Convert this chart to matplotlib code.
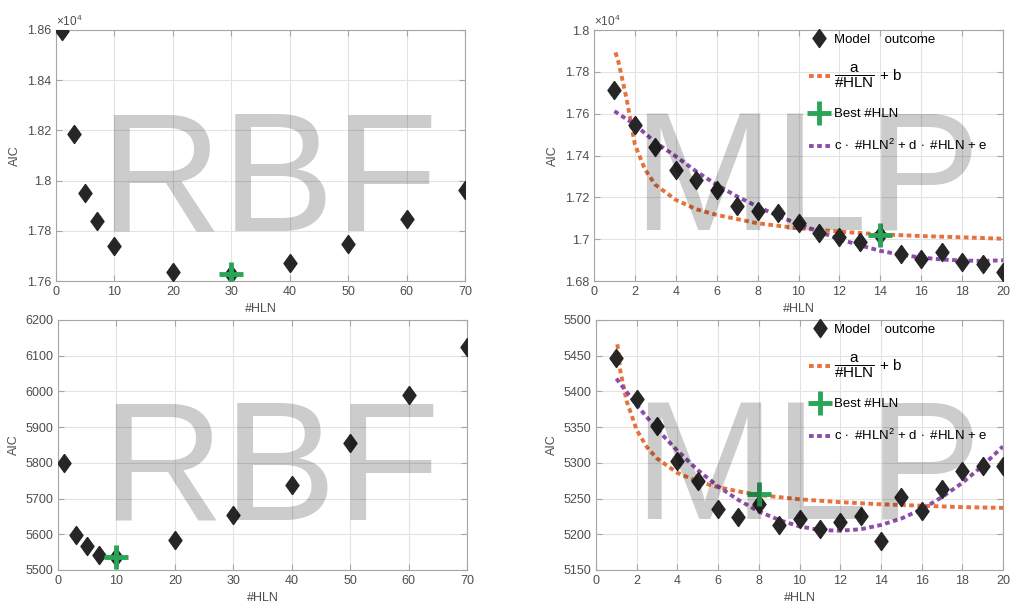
import matplotlib
matplotlib.use("Agg")
import matplotlib.pyplot as plt
from matplotlib.ticker import FuncFormatter

plt.rcParams['font.family'] = ['Liberation Sans', 'DejaVu Sans']
plt.rcParams['mathtext.fontset'] = 'custom'
plt.rcParams['mathtext.rm'] = 'Liberation Sans'
plt.rcParams['mathtext.it'] = 'Liberation Sans'
plt.rcParams['mathtext.bf'] = 'Liberation Sans:bold'

# ---- data ----
rbf_hln = [1, 3, 5, 7, 10, 20, 30, 40, 50, 60, 70]
rbf_aic_top = [18597, 18186, 17952, 17838, 17738, 17636, 17629, 17672, 17749, 17846, 17961]
rbf_best_top = (30, 17629)
rbf_aic_bot = [5801, 5599, 5568, 5542, 5536, 5583, 5654, 5737, 5855, 5989, 6124]
rbf_best_bot = (10, 5536)

mlp_hln = list(range(1, 21))
mlp_aic_top = [17712, 17547, 17442, 17332, 17284, 17233, 17159, 17135, 17124, 17079,
               17031, 17008, 16986, 17020, 16931, 16904, 16939, 16891, 16883, 16843]
mlp_best_top = (14, 17020)
mlp_aic_bot = [5447, 5390, 5352, 5303, 5274, 5236, 5224, 5243, 5213, 5222,
               5208, 5217, 5226, 5191, 5252, 5233, 5264, 5288, 5295, 5295]
mlp_best_bot = (8, 5257)

# fitted curves
fit1_x_top = [1.05, 1.2, 1.4, 1.6, 1.8, 2, 2.5, 3, 4, 5, 6, 8, 10, 12, 14, 16, 18, 20]
fit1_y_top = [17893, 17845, 17757, 17668, 17560, 17452, 17332, 17260, 17188, 17143,
              17116, 17076, 17052, 17036, 17023, 17015, 17009, 17002]
fit2_y_top = [17612, 17548, 17463, 17396, 17324, 17260, 17204, 17156, 17111, 17072,
              17036, 17000, 16971, 16944, 16926, 16912, 16903, 16898, 16896, 16899]

fit1_x_bot = [1.05, 1.2, 1.5, 2, 2.5, 3, 4, 5, 6, 7, 8, 10, 12, 14, 16, 18, 20]
fit1_y_bot = [5466, 5428, 5387, 5346, 5322, 5306, 5286, 5274, 5266, 5260, 5255,
              5249, 5245, 5242, 5240, 5238, 5237]
fit2_y_bot = [5418, 5381, 5347, 5317, 5290, 5267, 5248, 5232, 5220, 5211,
              5206, 5205, 5207, 5213, 5222, 5235, 5252, 5272, 5296, 5323]

GRAY = '#a6a6a6'
TXT = '#4d4d4d'
DARK = '#262626'
GREEN = '#2aa457'
ORANGE = '#e8703a'
PURPLE = '#8e4caa'
DIAMOND = [(0, 1), (0.72, 0), (0, -1), (-0.72, 0), (0, 1)]

fig = plt.figure(figsize=(10.11, 6.06), dpi=100)
W, H = 1011, 606


def make_ax(l, t, r, b):
    return fig.add_axes([l / W, 1 - b / H, (r - l) / W, (b - t) / H])


def style(ax, xlim, ylim, yticks, xticks, sci=False):
    ax.set_xlim(*xlim)
    ax.set_ylim(*ylim)
    ax.set_xticks(xticks)
    ax.set_yticks(yticks)
    if sci:
        ax.yaxis.set_major_formatter(FuncFormatter(lambda v, p: f'{v / 1e4:g}'))
        ax.text(0.0, 1.005, r'$\times10^4$', transform=ax.transAxes, fontsize=8.5,
                color=TXT, ha='left', va='bottom')
    ax.grid(True, color='#e3e3e3', lw=0.8)
    ax.set_axisbelow(True)
    for s in ax.spines.values():
        s.set_color(GRAY)
        s.set_linewidth(0.8)
    ax.tick_params(direction='in', top=True, right=True, length=4, color=GRAY,
                   labelcolor=TXT, labelsize=9, width=0.8)
    ax.set_xlabel('#HLN', fontsize=9, color=TXT, labelpad=4)
    ax.set_ylabel('AIC', fontsize=9, color=TXT, labelpad=4)


def watermark(ax, s):
    ax.text(0.52, 0.375, s, transform=ax.transAxes, fontsize=122, color='black',
            alpha=0.2, ha='center', va='center', zorder=4)


def dotted(ax, x, y, color, label=None):
    ln, = ax.plot(x, y, color=color, lw=2.8, label=label, zorder=2,
                  solid_capstyle='butt', dash_capstyle='butt')
    ln.set_dashes((1.2, 0.9))
    return ln


# RBF top
ax1 = make_ax(56, 30, 465, 281)
ax1.plot(rbf_hln, rbf_aic_top, ls='none', marker=DIAMOND, color=DARK, ms=13, zorder=3)
ax1.plot(*rbf_best_top, '+', color=GREEN, ms=17, mew=3.5, zorder=3)
style(ax1, (0, 70), (17600, 18600), range(17600, 18601, 200), range(0, 71, 10), sci=True)
watermark(ax1, 'RBF')

# RBF bottom
ax3 = make_ax(58, 320, 467, 570)
ax3.plot(rbf_hln, rbf_aic_bot, ls='none', marker=DIAMOND, color=DARK, ms=13, zorder=3)
ax3.plot(*rbf_best_bot, '+', color=GREEN, ms=17, mew=3.5, zorder=3)
style(ax3, (0, 70), (5500, 6200), range(5500, 6201, 100), range(0, 71, 10))
watermark(ax3, 'RBF')


def mlp_panel(ax, aic, best, fx, fy1, fy2):
    h1, = ax.plot(mlp_hln, aic, ls='none', marker=DIAMOND, color=DARK, ms=13, zorder=3,
                  label='Model    outcome')
    h2 = dotted(ax, fx, fy1, ORANGE, r'$\dfrac{a}{\text{#HLN}}$ + $b$')
    h3, = ax.plot(*best, '+', color=GREEN, ms=17, mew=3.5, zorder=3, label='Best #HLN')
    h4 = dotted(ax, mlp_hln, fy2, PURPLE, r'$c\,\cdot$ #HLN$^2$ + $d\,\cdot$ #HLN + $e$')
    leg = ax.legend(handles=[h1, h2, h3, h4], loc='upper right', frameon=False, fontsize=9.5,
                    handlelength=1.6, handletextpad=0.3, borderaxespad=0.0, labelspacing=1.35,
                    bbox_to_anchor=(0.975, 1.008))
    leg.get_texts()[1].set_fontsize(11)
    watermark(ax, 'MLP')


ax2 = make_ax(594, 30, 1003, 281)
mlp_panel(ax2, mlp_aic_top, mlp_best_top, fit1_x_top, fit1_y_top, fit2_y_top)
style(ax2, (0, 20), (16800, 18000), range(16800, 18001, 200), range(0, 21, 2), sci=True)

ax4 = make_ax(596, 320, 1003, 570)
mlp_panel(ax4, mlp_aic_bot, mlp_best_bot, fit1_x_bot, fit1_y_bot, fit2_y_bot)
style(ax4, (0, 20), (5150, 5500), range(5150, 5501, 50), range(0, 21, 2))

fig.savefig('out.png', dpi=100)
